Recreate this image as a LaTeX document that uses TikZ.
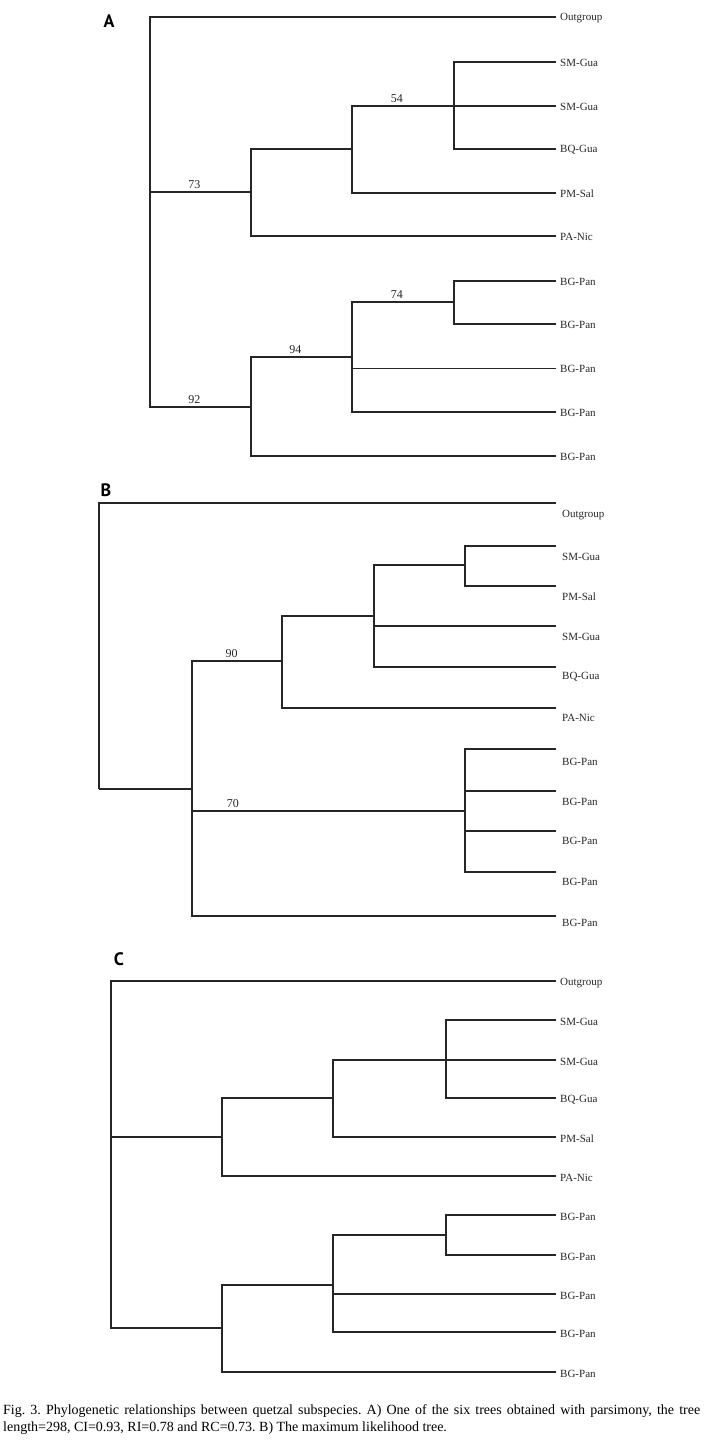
\documentclass[tikz,border=0pt]{standalone}
\usepackage{fontspec}
\setmainfont{Liberation Serif}
\newfontfamily\panelfont{PT Sans}
\usetikzlibrary{calc}
\tikzset{branch/.style={line width=1.8pt, draw=black!85},
  thinbranch/.style={line width=0.8pt, draw=black!85},
  tip/.style={anchor=west, inner sep=4pt, text=black!85,
    font=\fontsize{11}{13}\selectfont},
  boot/.style={above, inner sep=2.5pt, text=black!85,
    font=\fontsize{12}{14}\selectfont},
  panel/.style={font=\panelfont\bfseries\fontsize{18}{20}\selectfont}}

\begin{document}
\begin{tikzpicture}[x=1pt,y=-1pt]
  \useasboundingbox (0,0) rectangle (714,1444);
  % A
  \node[panel] (A) at (109,21) {A};
  \foreach \n/\y/\t in {1/17/Outgroup,2/62/SM-Gua,3/106/SM-Gua,4/149/BQ-Gua,
    5/193/PM-Sal,6/236/PA-Nic,7/281/BG-Pan,8/324/BG-Pan,9/368/BG-Pan,
    10/412/BG-Pan,11/456/BG-Pan}{
    \coordinate (eA\n) at (556,\y);
    \node[tip] (tA\n) at ([yshift=-1pt]eA\n) {\t};
  }
  \coordinate (nA0) at (150,192);
  \coordinate (nA1) at (251,192);
  \coordinate (nA2) at (352,149);
  \coordinate (nA3) at (454,106);
  \coordinate (nA4) at (251,407);
  \coordinate (nA5) at (352,357);
  \coordinate (nA6) at (454,302);
  \draw[branch] (nA0) |- (eA1) (nA0) |- (nA1) node[boot,pos=0.72] {73}
    (nA0) |- (nA4) node[boot,pos=0.72] {92};
  \draw[branch] (nA1) |- (nA2) (nA1) |- (eA6);
  \draw[branch] (nA2) |- (nA3) node[boot,pos=0.72] {54} (nA2) |- (eA5);
  \draw[branch] (nA3) |- (eA2) (nA3) |- (eA3) (nA3) |- (eA4);
  \draw[branch] (nA4) |- (nA5) node[boot,pos=0.72] {94} (nA4) |- (eA11);
  \draw[branch] (nA5) |- (nA6) node[boot,pos=0.72] {74} (nA5) |- (eA10);
  \draw[thinbranch] (nA5) |- (eA9);
  \draw[branch] (nA6) |- (eA7) (nA6) |- (eA8);

  % B
  \node[panel] (B) at (106,490) {B};
  \foreach \n/\y/\l/\t in {1/503/515/Outgroup,2/546/557/SM-Gua,3/586/597/PM-Sal,
    4/626/637/SM-Gua,5/667/677/BQ-Gua,6/708/718/PA-Nic,7/749/762/BG-Pan,
    8/791/802/BG-Pan,9/831/841/BG-Pan,10/872/882/BG-Pan,11/916/923/BG-Pan}{
    \coordinate (eB\n) at (556,\y);
    \node[tip] (tB\n) at (558,\l) {\t};
  }
  \coordinate (nB0) at (99,789);
  \coordinate (nB1) at (192,789);
  \coordinate (nB2) at (282,661);
  \coordinate (nB3) at (374,616);
  \coordinate (nB4) at (465,565);
  \coordinate (nB5) at (465,811);
  \draw[branch] (nB0) |- (eB1) (nB0) |- (nB1);
  \draw[branch] (nB1) |- (nB2) node[boot,pos=0.72] {90}
    (nB1) |- (nB5) node[boot,pos=0.575] {70} (nB1) |- (eB11);
  \draw[branch] (nB2) |- (nB3) (nB2) |- (eB6);
  \draw[branch] (nB3) |- (nB4) (nB3) |- (eB4) (nB3) |- (eB5);
  \draw[branch] (nB4) |- (eB2) (nB4) |- (eB3);
  \draw[branch] (nB5) |- (eB7) (nB5) |- (eB8) (nB5) |- (eB9) (nB5) |- (eB10);

  % C
  \node[panel] (C) at (119,959) {C};
  \foreach \n/\y/\t in {1/981/Outgroup,2/1020/SM-Gua,3/1060/SM-Gua,4/1098/BQ-Gua,
    5/1137/PM-Sal,6/1176/PA-Nic,7/1215/BG-Pan,8/1255/BG-Pan,9/1294/BG-Pan,
    10/1332/BG-Pan,11/1372/BG-Pan}{
    \coordinate (eC\n) at (556,\y);
    \node[tip] (tC\n) at ([yshift=-2pt]eC\n) {\t};
  }
  \coordinate (nC0) at (111,1137);
  \coordinate (nC1) at (222,1137);
  \coordinate (nC2) at (333,1098);
  \coordinate (nC3) at (446,1060);
  \coordinate (nC4) at (222,1328);
  \coordinate (nC5) at (333,1285);
  \coordinate (nC6) at (446,1235);
  \draw[branch,line width=1.5pt] (nC0) |- (eC1) (nC0) |- (nC1) (nC0) |- (nC4)
    (nC1) |- (nC2) (nC1) |- (eC6)
    (nC2) |- (nC3) (nC2) |- (eC5)
    (nC3) |- (eC2) (nC3) |- (eC3) (nC3) |- (eC4)
    (nC4) |- (nC5) (nC4) |- (eC11)
    (nC5) |- (nC6) (nC5) |- (eC9) (nC5) |- (eC10)
    (nC6) |- (eC7) (nC6) |- (eC8);

  \node[anchor=north west, inner sep=0pt, text width=697pt, align=justify,
    font=\fontsize{14}{17}\selectfont\frenchspacing] (cap) at (3,1404)
    {Fig. 3. Phylogenetic relationships between quetzal subspecies. A) One of
    the six trees obtained with parsimony, the tree\linebreak
    length=298, CI=0.93, RI=0.78 and RC=0.73. B) The maximum likelihood tree.};
\end{tikzpicture}
\end{document}
